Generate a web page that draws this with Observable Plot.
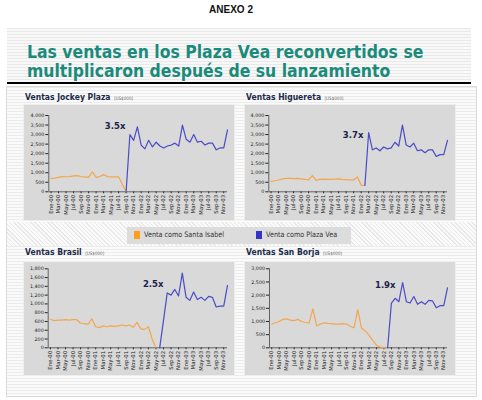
<!DOCTYPE html>
<html><head><meta charset="utf-8">
<script src="https://cdn.jsdelivr.net/npm/d3@7"></script>
<script src="https://cdn.jsdelivr.net/npm/@observablehq/plot@0.6"></script>
<style>
body{margin:0;width:482px;height:400px;background:#fff;position:relative;overflow:hidden;font-family:"DejaVu Sans",sans-serif;}
.abs{position:absolute;}
#anexo{left:0;top:5px;width:462px;text-align:center;font:bold 10px "Liberation Sans",Arial,sans-serif;color:#111;line-height:10px;}
#band{left:7px;top:28px;width:464px;height:54px;background:repeating-linear-gradient(180deg,#e9e9e9 0 1px,#f8f8f8 1px 3px);border-bottom:2px solid #000;}
.ttl{left:27px;font:bold 18px "DejaVu Sans",sans-serif;line-height:18px;color:#1a8a7b;transform:scaleX(0.87);transform-origin:0 0;white-space:nowrap;}
#lower{left:6px;top:86px;width:469px;height:309px;border:1px solid #dadada;background:repeating-linear-gradient(180deg,#ececec 0 1px,#fafafa 1px 3px);}
#legrow{left:7px;top:222px;width:469px;height:24px;background:repeating-linear-gradient(45deg,#e9e9e9 0 1px,#fafafa 1px 3px);}
.ptitle{font:bold 9px "DejaVu Sans",sans-serif;line-height:9px;color:#202a48;transform:scaleX(0.85);transform-origin:0 0;white-space:nowrap;}
.ptitle span{font-weight:normal;font-size:4.8px;color:#666;margin-left:4px;}
.chart{position:absolute;border:1px solid #eeeeee;}
#legend{left:127px;top:227px;width:224px;height:17px;background:#dcdcdc;}
.sw{position:absolute;width:6px;height:8px;top:231px;}
.lt{position:absolute;top:231px;font:7.5px "DejaVu Sans",sans-serif;line-height:8px;color:#333;transform:scaleX(0.86);transform-origin:0 0;white-space:nowrap;}
</style></head>
<body>
<div id="anexo" class="abs">ANEXO 2</div>
<div id="band" class="abs"></div>
<div class="abs ttl" style="top:43px">Las ventas en los Plaza Vea reconvertidos se</div>
<div class="abs ttl" style="top:62px">multiplicaron después de su lanzamiento</div>
<div id="lower" class="abs"></div>
<div id="legrow" class="abs"></div>
<div id="legend" class="abs"></div>
<div class="sw" style="left:134px;background:#ff9d1a"></div>
<div class="lt" id="lt0" style="left:144px"></div>
<div class="sw" style="left:256px;background:#3434c8"></div>
<div class="lt" id="lt1" style="left:266px"></div>
<div id="charts"></div>
<script>
// Tick labels (every two months, Jan-00 .. Nov-03)
const monthLabels = ["Ene-00","Mar-00","May-00","Jul-00","Sep-00","Nov-00",
  "Ene-01","Mar-01","May-01","Jul-01","Sep-01","Nov-01",
  "Ene-02","Mar-02","May-02","Jul-02","Sep-02","Nov-02",
  "Ene-03","Mar-03","May-03","Jul-03","Sep-03","Nov-03"];

const storeNames = ["Ventas Jockey Plaza","Ventas Higuereta","Ventas Brasil","Ventas San Borja"];
const unitLabel = "(US$000)";
const seriesNames = ["Venta como Santa Isabel","Venta como Plaza Vea"];

// Sales as Santa Isabel (month index 0 = Ene-00)
const jockeySI = [700,720,760,800,790,800,830,850,800,780,760,1050,760,800,900,800,780,780,780,400,0];
const higueretaSI = [550,580,620,680,700,700,690,700,680,650,620,850,600,650,660,650,650,660,680,650,640,630,620,780,350,330];
const brasilSI = [650,620,630,630,640,630,640,640,560,550,540,660,480,460,500,480,500,490,500,520,500,520,470,580,430,420,480,200,0];
const sanBorjaSI = [900,950,1000,1080,1100,1050,1030,1080,1000,960,950,1480,830,900,950,930,920,900,900,920,900,820,760,1450,750,640,480,280,100,30,0,0];

// Sales as Plaza Vea, and first month index of each series
const jockeyPV = [0,3000,2700,3400,2450,2250,2700,2350,2600,2400,2300,2400,2450,2550,2400,3500,2750,2600,3000,2600,2650,2450,2550,2550,2200,2300,2300,3250];
const higueretaPV = [330,3100,2200,2300,2150,2350,2250,2300,2600,2400,3500,2450,2350,2550,2150,2200,2050,2200,2200,1850,1950,1950,2700];
const brasilPV = [0,620,1250,1200,1330,1180,1700,1150,1080,1270,1100,1150,1080,1170,1150,930,950,950,1420];
const sanBorjaPV = [0,1700,1880,1750,2480,1750,1700,1950,1650,1750,1650,1800,1780,1520,1600,1600,2280];
const pvStart = [20,25,29,31];

// Y axis maxima and steps
const yMax = [4000,4000,1800,3000];
const yStep = [500,500,200,500];

// Multiplier annotations (label, month, value)
const annotLabels = ["3.5x","3.7x","2.5x","1.9x"];
const annotMonth = [19.8,24.6,30,33.1];
const annotValue = [3420,2950,1440,2360];

const siSeries = [jockeySI,higueretaSI,brasilSI,sanBorjaSI];
const pvSeries = [jockeyPV,higueretaPV,brasilPV,sanBorjaPV];

const ORANGE = "#f4a64c", BLUE = "#4b4bc6";

document.getElementById("lt0").textContent = seriesNames[0];
document.getElementById("lt1").textContent = seriesNames[1];

// layout per panel
const layout = [
  {left:24, top:105, width:210, height:115, mt:10, mb:28.7, ml:24.3, mr:7, tTop:93.4},
  {left:245, top:105, width:210, height:115, mt:10, mb:28.7, ml:23.3, mr:8, tTop:93.4},
  {left:24, top:262, width:210, height:113, mt:6.3, mb:27.7, ml:23.7, mr:7, tTop:248.4},
  {left:245, top:262, width:210, height:113, mt:6.3, mb:27.7, ml:24, mr:8, tTop:248.4}
];

const tickPos = monthLabels.map((_, i) => i * 2);
const container = document.getElementById("charts");

storeNames.forEach((name, k) => {
  const L = layout[k];
  const t = document.createElement("div");
  t.className = "abs ptitle";
  t.style.left = (L.left + 1) + "px";
  t.style.top = L.tTop + "px";
  t.innerHTML = name + "<span>" + unitLabel + "</span>";
  document.body.appendChild(t);

  const si = siSeries[k].map((v, i) => ({m: i, v}));
  const pv = pvSeries[k].map((v, i) => ({m: pvStart[k] + i, v}));
  const yTicks = d3.range(0, yMax[k] + 1, yStep[k]);
  const x0 = -0.6;
  const plot = Plot.plot({
    width: L.width, height: L.height,
    marginLeft: L.ml, marginRight: L.mr, marginTop: L.mt, marginBottom: L.mb,
    style: {background: "#d9d9d9", fontFamily: "DejaVu Sans", fontSize: "5.4px", color: "#222", overflow: "visible"},
    x: {domain: [x0, 47], ticks: tickPos, tickFormat: d => monthLabels[d / 2], tickRotate: -90, tickSize: 2, tickPadding: 1, label: null},
    y: {domain: [0, yMax[k]], ticks: yTicks, tickFormat: d3.format(","), tickSize: 3, tickPadding: 1.5, label: null},
    marks: [
      Plot.ruleY([0], {stroke: "#444", strokeWidth: 0.8}),
      Plot.ruleX([x0], {y1: 0, y2: yMax[k], stroke: "#444", strokeWidth: 0.8}),
      Plot.line(si, {x: "m", y: "v", stroke: ORANGE, strokeWidth: 1.2}),
      Plot.line(pv, {x: "m", y: "v", stroke: BLUE, strokeWidth: 1.2}),
      Plot.text([{m: annotMonth[k], v: annotValue[k], t: annotLabels[k]}], {x: "m", y: "v", text: "t", textAnchor: "end", fontWeight: "bold", fontSize: 8.5, fill: "#1c1f4c"})
    ]
  });
  // shrink y tick labels slightly (horizontal text in the source is narrower)
  plot.querySelectorAll("[aria-label='y-axis tick label'] text, g[aria-label='y-axis'] text").forEach(n => n.setAttribute("font-size", "4.8"));
  const wrap = document.createElement("div");
  wrap.className = "chart";
  wrap.style.left = (L.left - 1) + "px";
  wrap.style.top = (L.top - 1) + "px";
  wrap.style.width = L.width + "px";
  wrap.style.height = L.height + "px";
  plot.style.display = "block";
  wrap.appendChild(plot);
  container.appendChild(wrap);
});
</script>
</body></html>
